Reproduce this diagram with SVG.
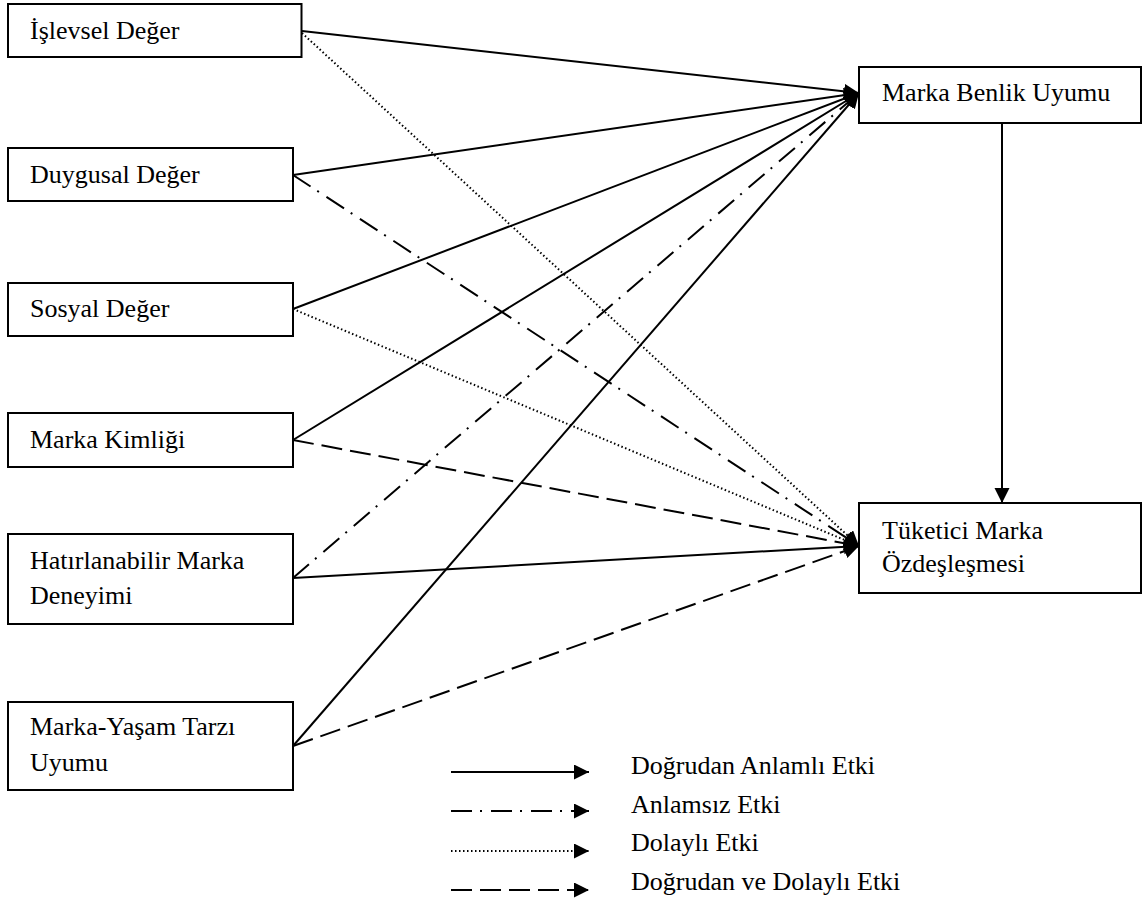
<svg xmlns="http://www.w3.org/2000/svg" width="1144" height="910" viewBox="0 0 1144 910">
<style>
text{font-family:"Liberation Serif","Times New Roman",serif;font-size:26px;fill:#000}
.box{fill:#fff;stroke:#000;stroke-width:2}
.c{fill:none;stroke:#000;stroke-width:2;marker-end:url(#ah)}
.dot{stroke-dasharray:1.5 2.5;stroke-width:2}
.dd{stroke-dasharray:21 8 2 9}
.da{stroke-dasharray:21 8}
</style>
<defs>
<marker id="ah" markerUnits="userSpaceOnUse" markerWidth="16" markerHeight="16" refX="15" refY="7.5" orient="auto">
<path d="M0,0 L15,7.5 L0,15 z" fill="#000"/>
</marker>
</defs>
<g id="connectors">
<line class="c" x1="302" y1="31" x2="859" y2="93"/>
<line class="c dot" x1="302" y1="33" x2="859" y2="546"/>
<line class="c" x1="293" y1="175" x2="859" y2="93"/>
<line class="c dd" x1="293" y1="175" x2="859" y2="546"/>
<line class="c" x1="293" y1="309" x2="859" y2="93"/>
<line class="c dot" x1="293" y1="309" x2="859" y2="546"/>
<line class="c" x1="293" y1="440" x2="859" y2="93"/>
<line class="c da" x1="293" y1="440" x2="859" y2="546"/>
<line class="c dd" x1="293" y1="578" x2="859" y2="93"/>
<line class="c" x1="293" y1="578" x2="859" y2="546"/>
<line class="c" x1="293" y1="746" x2="859" y2="93"/>
<line class="c da" x1="293" y1="746" x2="859" y2="546"/>
<line class="c" x1="1002" y1="124" x2="1002" y2="503"/>
</g>
<g id="islevsel"><rect class="box" x="8" y="4" width="293.5" height="53"/><text x="30" y="39">İşlevsel Değer</text></g>
<g id="duygusal"><rect class="box" x="8" y="148" width="285" height="53"/><text x="30" y="183">Duygusal Değer</text></g>
<g id="sosyal"><rect class="box" x="8" y="283" width="285" height="53"/><text x="30" y="317">Sosyal Değer</text></g>
<g id="kimlik"><rect class="box" x="8" y="413" width="285" height="54"/><text x="30" y="448">Marka Kimliği</text></g>
<g id="hatirlanabilir"><rect class="box" x="8" y="534" width="285" height="90"/><text x="30" y="569">Hatırlanabilir Marka</text><text x="30" y="604">Deneyimi</text></g>
<g id="yasam"><rect class="box" x="8" y="702" width="285" height="88"/><text x="30" y="735">Marka-Yaşam Tarzı</text><text x="30" y="771">Uyumu</text></g>
<g id="benlik"><rect class="box" x="859" y="67" width="282" height="56"/><text x="882" y="101">Marka Benlik Uyumu</text></g>
<g id="tuketici"><rect class="box" x="859" y="503" width="282" height="90"/><text x="882" y="539">Tüketici Marka</text><text x="882" y="572">Özdeşleşmesi</text></g>
<g id="legend">
<line class="c" x1="451" y1="772" x2="589" y2="772"/>
<line class="c dd" x1="451" y1="811" x2="589" y2="811"/>
<line class="c dot" x1="451" y1="851" x2="589" y2="851"/>
<line class="c da" x1="451" y1="890" x2="589" y2="890"/>
<text x="631" y="774">Doğrudan Anlamlı Etki</text>
<text x="631" y="813">Anlamsız Etki</text>
<text x="631" y="851">Dolaylı Etki</text>
<text x="631" y="890">Doğrudan ve Dolaylı Etki</text>
</g>
</svg>
